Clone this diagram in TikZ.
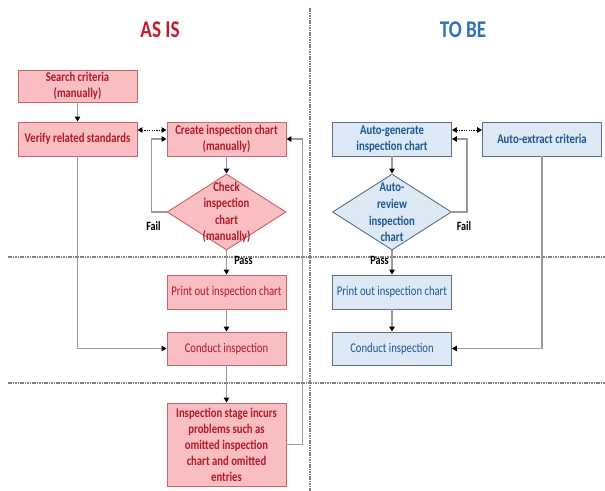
\documentclass[tikz,border=0pt]{standalone}
\usepackage{fontspec}
\setmainfont{Carlito}[FakeStretch=0.8]
\usetikzlibrary{arrows.meta,shapes.geometric}

\definecolor{redfill}{HTML}{F8BEC1}
\definecolor{redline}{HTML}{C8646C}
\definecolor{redtext}{HTML}{B01A2B}
\definecolor{redtitle}{HTML}{C8192E}
\definecolor{bluefill}{HTML}{DDEAF6}
\definecolor{blueline}{HTML}{5E7189}
\definecolor{bluetext}{HTML}{1C5696}
\definecolor{bluetitle}{HTML}{2E72B4}
\definecolor{connline}{HTML}{9A9A9A}

\begin{document}
\begin{tikzpicture}[x=0.75pt,y=-0.75pt,
  every node/.style={font=\fontsize{10}{12}\selectfont},
  boldtext/.style={font=\fontsize{10}{12}\selectfont\bfseries},
  box/.style={draw, line width=0.7pt, rectangle, align=center,
    minimum width=89.25pt, minimum height=25.5pt, inner sep=1pt},
  redbox/.style={box, fill=redfill, draw=redline, text=redtext},
  bluebox/.style={box, fill=bluefill, draw=blueline, text=bluetext},
  decision/.style={diamond, draw, line width=0.7pt, inner sep=0pt,
    minimum width=89.25pt, minimum height=57pt},
  reddecision/.style={decision, fill=redfill, draw=redline},
  bluedecision/.style={decision, fill=bluefill, draw=blueline},
  dtext/.style={align=center, inner sep=0pt, font=\fontsize{10}{12.4}\selectfont\bfseries},
  conn/.style={draw=connline, line width=0.9pt,
    -{Triangle[length=3.6pt,width=4pt,black]}},
  dotarrow/.style={black, line width=0.7pt, dash pattern=on 0.9pt off 0.9pt,
    {Triangle[length=3.6pt,width=4pt]}-{Triangle[length=3.6pt,width=4pt]}},
  divider/.style={draw=gray, line width=0.9pt, dash pattern=on 1.2pt off 0.6pt},
  lbl/.style={font=\fontsize{9.5}{11}\selectfont\bfseries, text=black, inner sep=0pt},
  title/.style={font=\fontsize{18}{20}\selectfont\bfseries, inner sep=0pt}
]
\useasboundingbox (0,0) rectangle (605,491);

% section dividers
\draw[divider] (8,257) -- (605,257);
\draw[divider] (8,383) -- (605,383);
\draw[divider] (310,8) -- (310,491);

% titles
\node[title, text=redtitle] (asis) at (160,30) {AS IS};
\node[title, text=bluetitle] (tobe) at (463,30) {TO BE};

% ---- current process ----
\node[redbox, boldtext, minimum height=24pt] (search) at (77.5,86) {Search criteria\\(manually)};
\node[redbox, boldtext] (verify) at (77.5,139) {Verify related standards};
\node[redbox, boldtext] (create) at (226.5,139) {Create inspection chart\\(manually)};
\node[reddecision] (check) at (226.5,212) {};
\node[dtext, text=redtext] (checktxt) at (226.5,212.5) {Check\\inspection\\chart\\(manually)};
\node[redbox] (print) at (226.5,292) {Print out inspection chart};
\node[redbox, minimum height=24.75pt] (conduct) at (226.5,348.5) {Conduct inspection};
\node[redbox, boldtext, minimum height=62.25pt] (problem) at (226.5,444.5)
  {Inspection stage incurs\\problems such as\\omitted inspection\\chart and omitted\\entries};

\draw[conn] (search) -- (verify);
\draw[conn] (create) -- (check);
\draw[conn] (check) -- (print);
\draw[conn] (print) -- (conduct);
\draw[conn] (conduct) -- (problem);
\draw[conn] (verify.south) |- (conduct.west);
\draw[conn] (check.west) -- ++(-15,0) |- (create.west);
\draw[conn] (problem.east) -- ++(16,0) |- (create.east);
\draw[dotarrow] ([yshift=6.75pt]verify.east) -- ([yshift=6.75pt]create.west);

\node[lbl] (failL) at (153.5,226) {Fail};
\node[lbl, anchor=west] (passL) at (234,260) {Pass};

% ---- future process ----
\node[bluebox, boldtext] (autogen) at (392,139) {Auto-generate\\inspection chart};
\node[bluebox, boldtext] (autoext) at (542,139) {Auto-extract criteria};
\node[bluedecision] (review) at (392,212) {};
\node[dtext, text=bluetext] (reviewtxt) at (392,212.5) {Auto-\\review\\inspection\\chart};
\node[bluebox] (print2) at (392,292) {Print out inspection chart};
\node[bluebox, minimum height=24.75pt] (conduct2) at (392,348.5) {Conduct inspection};

\draw[conn] (autogen) -- (review);
\draw[conn] (review) -- (print2);
\draw[conn] (print2) -- (conduct2);
\draw[conn] (autoext.south) |- (conduct2.east);
\draw[conn] (review.east) -- ++(15,0) |- (autogen.east);
\draw[dotarrow] ([yshift=6.75pt]autogen.east) -- ([yshift=6.75pt]autoext.west);

\node[lbl] (failR) at (464,226) {Fail};
\node[lbl, anchor=east] (passR) at (389,260) {Pass};
\end{tikzpicture}
\end{document}
